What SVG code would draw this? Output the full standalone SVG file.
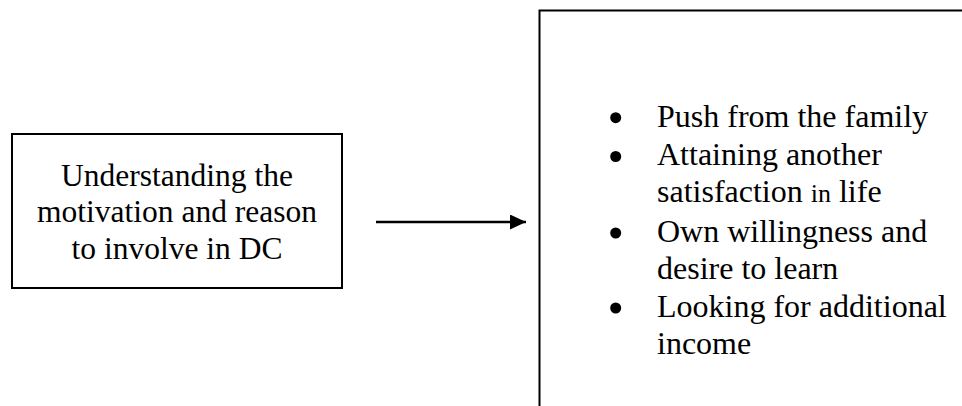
<svg xmlns="http://www.w3.org/2000/svg" width="962" height="406" viewBox="0 0 962 406">
  <style>
    .box { fill: none; stroke: #000; stroke-width: 2; }
    .label { font-family: "Liberation Serif", "Times New Roman", serif; fill: #000; }
    .center { font-size: 31.5px; text-anchor: middle; }
    .item { font-size: 32px; }
    .small { font-size: 26px; }
    .edge { stroke: #000; stroke-width: 2.5; fill: none; }
  </style>
  <defs>
    <marker id="arrowhead" markerWidth="16" markerHeight="15" refX="16" refY="7.5" orient="auto" markerUnits="userSpaceOnUse">
      <path d="M0,0 L16,7.5 L0,15 Z" fill="#000"/>
    </marker>
  </defs>
  <rect width="962" height="406" fill="#fff"/>

  <!-- source box -->
  <g id="node-motivation">
    <rect class="box" x="12" y="134" width="330" height="154"/>
    <text class="label center" x="177" y="185.5">Understanding the</text>
    <text class="label center" x="177" y="222">motivation and reason</text>
    <text class="label center" x="177" y="258.5">to involve in DC</text>
  </g>

  <!-- reasons list box (extends past the canvas edges) -->
  <g id="node-reasons">
    <path class="box" d="M539.5,406 V10.5 H962"/>
    <g fill="#000">
      <circle cx="615.7" cy="117.7" r="5.5"/>
      <circle cx="615.7" cy="156.5" r="5.5"/>
      <circle cx="615.7" cy="233" r="5.5"/>
      <circle cx="615.7" cy="308" r="5.5"/>
    </g>
    <text class="label item" x="657" y="126.7">Push from the family</text>
    <text class="label item" x="657" y="165">Attaining another</text>
    <text class="label item" x="657" y="202">satisfaction <tspan class="small">in</tspan> life</text>
    <text class="label item" x="657" y="241.7">Own willingness and</text>
    <text class="label item" x="657" y="278.5">desire to learn</text>
    <text class="label item" x="657" y="316.7">Looking for additional</text>
    <text class="label item" x="657" y="354">income</text>
  </g>

  <g id="connectors">
    <line class="edge" x1="376" y1="222" x2="526" y2="222" marker-end="url(#arrowhead)"/>
  </g>
</svg>
